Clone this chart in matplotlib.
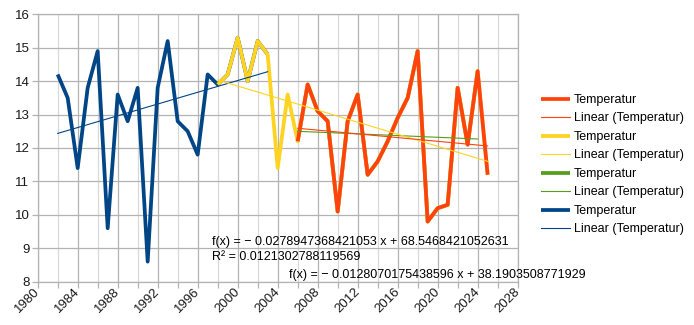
import matplotlib.pyplot as plt
import numpy as np
from matplotlib.ticker import MultipleLocator

plt.rcParams['font.family'] = ['Liberation Sans', 'DejaVu Sans']

# Jahresmittel der Temperatur
jahre = np.arange(1982, 2026)
temperatur = np.array([
    14.2, 13.5, 11.4, 13.8, 14.9, 9.6, 13.6, 12.8, 13.8, 8.6,
    13.8, 15.2, 12.8, 12.5, 11.8, 14.2, 13.9, 14.2, 15.3, 14.0,
    15.2, 14.8, 11.4, 13.6, 12.2, 13.9, 13.1, 12.8, 10.1, 12.8,
    13.6, 11.2, 11.6, 12.2, 12.9, 13.5, 14.9, 9.8, 10.2, 10.3,
    13.8, 12.1, 14.3, 11.2,
])

# Zeitraeume der Datenreihen (erstes Jahr, letztes Jahr)
reihe_rot = (2006, 2025)
reihe_gelb = (1998, 2025)
reihe_gruen = (2006, 2024)
reihe_blau = (1982, 2003)

# Koeffizienten der beschrifteten Trendlinien (Steigung, Achsenabschnitt)
trend_rot = (-0.0278947368421053, 68.5468421052631)
bestimmtheit_rot = 0.0121302788119569
trend_gruen = (-0.0128070175438596, 38.1903508771929)

ROT = '#ff420e'
GELB = '#ffd320'
GRUEN = '#579d1c'
BLAU = '#004586'
GITTER = '#b3b3b3'


def ausschnitt(zeitraum):
    maske = (jahre >= zeitraum[0]) & (jahre <= zeitraum[1])
    return jahre[maske].astype(float), temperatur[maske]


def zeichne_reihe(ax, zeitraum, farbe, z, koeff=None):
    x, y = ausschnitt(zeitraum)
    linie, = ax.plot(x, y, color=farbe, linewidth=2.7, label='Temperatur',
                     zorder=z, solid_joinstyle='round', solid_capstyle='butt')
    if koeff is None:
        koeff = np.polyfit(x, y, 1)
    m, b = koeff
    xt = np.array([x.min(), x.max()])
    trend, = ax.plot(xt, m * xt + b, color=farbe, linewidth=0.8,
                     label='Linear (Temperatur)', zorder=10 + z)
    return linie, trend


def gleichung(koeff):
    m, b = koeff
    vz = '− ' if m < 0 else ''
    return f'f(x) = {vz}{abs(m)} x + {b}'


fig = plt.figure(figsize=(6.94, 3.25), dpi=100)
ax = fig.add_axes([0.0543, 0.1333, 0.6916, 0.8227])

blau = zeichne_reihe(ax, reihe_blau, BLAU, 1)
gruen = zeichne_reihe(ax, reihe_gruen, GRUEN, 2, trend_gruen)
gelb = zeichne_reihe(ax, reihe_gelb, GELB, 3)
rot = zeichne_reihe(ax, reihe_rot, ROT, 4, trend_rot)

ax.set_xlim(1980, 2028)
ax.set_ylim(8, 16)
ax.xaxis.set_major_locator(MultipleLocator(4))
ax.xaxis.set_minor_locator(MultipleLocator(2))
ax.yaxis.set_major_locator(MultipleLocator(1))
ax.grid(True, which='major', color=GITTER, linewidth=0.9)
ax.grid(True, which='minor', axis='x', color='#d9d9d9', linewidth=0.9)
ax.set_axisbelow(True)
for seite in ax.spines.values():
    seite.set_color(GITTER)
    seite.set_linewidth(0.9)
ax.tick_params(which='both', color=GITTER, length=4, width=0.9,
               labelsize=9.5, labelcolor='#1a1a1a', pad=2)
plt.setp(ax.get_xticklabels(), rotation=45, ha='right', va='center',
         rotation_mode='anchor')

# Gleichungen der Trendlinien
ax.text(1997.4, 9.19, gleichung(trend_rot), fontsize=9, va='center')
ax.text(1997.4, 8.75, f'R² = {bestimmtheit_rot}', fontsize=9, va='center')
ax.text(2005.1, 8.2, gleichung(trend_gruen), fontsize=9, va='center')

griffe = [rot[0], rot[1], gelb[0], gelb[1], gruen[0], gruen[1], blau[0], blau[1]]
ax.legend(handles=griffe, labels=[g.get_label() for g in griffe],
          loc='upper left', bbox_to_anchor=(541 / 694, 1 - 94 / 325),
          bbox_transform=fig.transFigure, frameon=False, fontsize=9,
          handlelength=2.35, handletextpad=0.3, labelspacing=0.52,
          borderpad=0, borderaxespad=0)

fig.savefig('out.png', dpi=100)
